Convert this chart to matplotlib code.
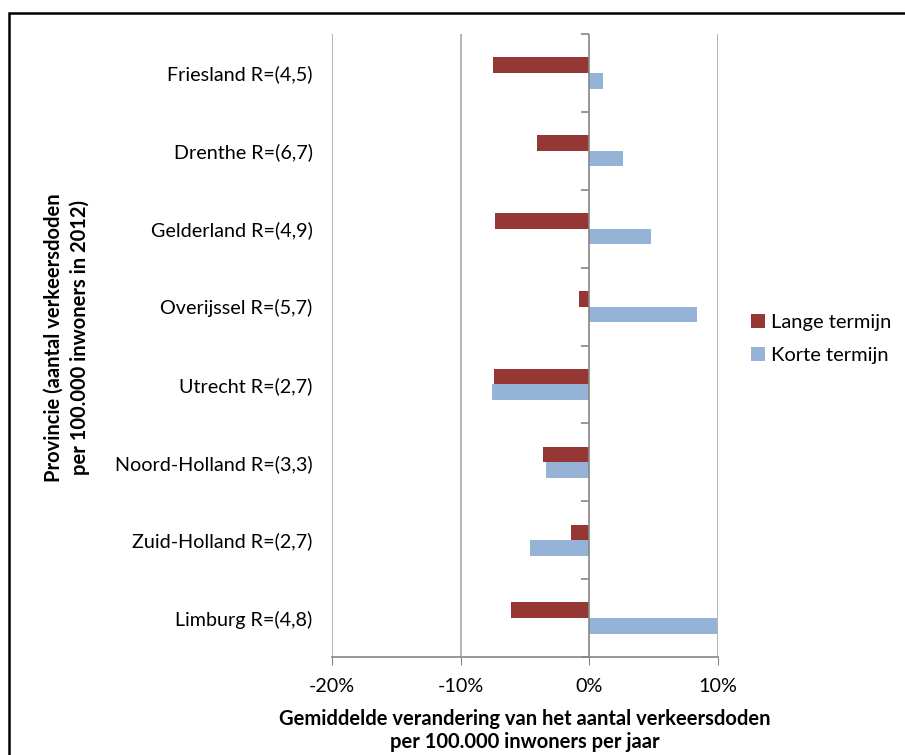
import matplotlib.pyplot as plt
import numpy as np
from matplotlib.patches import Rectangle

plt.rcParams['font.family'] = ['Lato', 'DejaVu Sans']

provincies = ['Friesland R=(4,5)', 'Drenthe R=(6,7)', 'Gelderland R=(4,9)',
              'Overijssel R=(5,7)', 'Utrecht R=(2,7)', 'Noord-Holland R=(3,3)',
              'Zuid-Holland R=(2,7)', 'Limburg R=(4,8)']
lange = [-7.5, -4.1, -7.3, -0.8, -7.4, -3.6, -1.4, -6.1]
korte = [1.1, 2.6, 4.8, 8.4, -7.6, -3.4, -4.6, 9.95]
xticks = [-20, -10, 0, 10]
xlabels = ['-20%', '-10%', '0%', '10%']

fig = plt.figure(figsize=(9.05, 7.55), dpi=100)
ax = fig.add_axes([332 / 905, 1 - 657 / 755, 386 / 905, 623 / 755])

y = np.arange(len(provincies))[::-1]
h = 0.2
ax.barh(y + h / 2, lange, height=h, color='#953735', label='Lange termijn', zorder=3)
ax.barh(y - h / 2, korte, height=h, color='#95B3D7', label='Korte termijn', zorder=3)

ax.set_xlim(-20, 10)
ax.set_ylim(-0.5, len(provincies) - 0.5)
ax.set_xticks(xticks)
ax.set_xticklabels(xlabels, fontsize=14.2)
ax.set_yticks(y)
ax.set_yticklabels(provincies, fontsize=14.2)
ax.tick_params(axis='y', length=0, pad=14)
ax.tick_params(axis='x', length=6, color='#868686', pad=9)

for g in [-20, -10, 10]:
    ax.axvline(g, color='#b3b3b3', lw=1.4, zorder=1)
ax.axvline(0, color='#868686', lw=1.2, zorder=4)

for s in ['top', 'right', 'left']:
    ax.spines[s].set_visible(False)
ax.spines['bottom'].set_color('#868686')
ax.spines['bottom'].set_linewidth(1.2)

# vertical axis crossing at 0%, ticks between the categories
sec = ax.secondary_yaxis(2 / 3)
sec.set_yticks(np.arange(-0.5, len(provincies), 1.0))
sec.set_yticklabels([])
sec.tick_params(length=6, color='#868686', width=1.2, direction='in')
sec.spines['left'].set_visible(False)
sec.spines['right'].set_visible(False)

ax.set_xlabel('Gemiddelde verandering van het aantal verkeersdoden\nper 100.000 inwoners per jaar',
              fontsize=14.5, fontweight='bold', labelpad=10, linespacing=1.2)
fig.text(0.074, 0.553, 'Provincie (aantal verkeersdoden\nper 100.000 inwoners in 2012)',
         rotation=90, ha='center', va='center', fontsize=14.5, fontweight='bold',
         linespacing=1.35)

ax.legend(loc='center left', bbox_to_anchor=(733 / 905, 1 - 339 / 755),
          bbox_transform=fig.transFigure, frameon=False, fontsize=14.5,
          handlelength=0.7, handleheight=0.7, handletextpad=0.3, labelspacing=0.75)

fig.patches.append(Rectangle((9 / 905, -0.1), 1.2, 1 - 13 / 755 + 0.1,
                             transform=fig.transFigure, fill=False,
                             edgecolor='black', lw=1.8))

fig.savefig('out.png', dpi=100)
